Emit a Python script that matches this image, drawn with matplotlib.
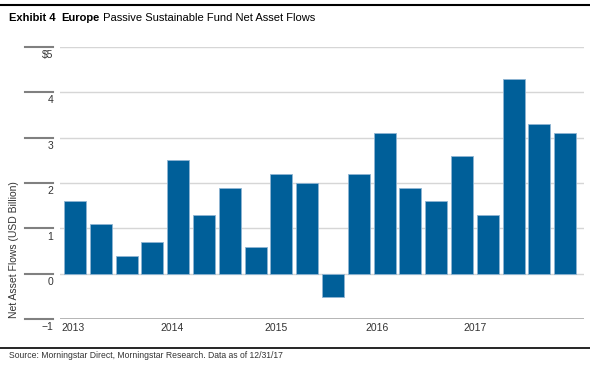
import matplotlib
matplotlib.use("Agg")
import matplotlib.pyplot as plt
import matplotlib.transforms as mtransforms
from matplotlib import font_manager
from matplotlib.lines import Line2D

# quarterly flows, Q1 2013 .. Q4 2017
flows = [1.6, 1.1, 0.4, 0.7, 2.5, 1.3, 1.9, 0.6, 2.2, 2.0,
         -0.5, 2.2, 3.1, 1.9, 1.6, 2.6, 1.3, 4.3, 3.3, 3.1]
years = ["2013", "2014", "2015", "2016", "2017"]
year_pos = [-0.06, 3.76, 7.79, 11.69, 15.5]
yvals = [5, 4, 3, 2, 1, 0, -1]
ylabels = ["$5", "4", "3", "2", "1", "0", "\u22121"]


def pick_font(names):
    for n in names:
        try:
            font_manager.findfont(n, fallback_to_default=False)
            return n
        except ValueError:
            pass
    return 'DejaVu Sans'


fam = pick_font(['Liberation Sans Narrow', 'Liberation Sans', 'Roboto'])
plt.rcParams['font.family'] = [fam, 'DejaVu Sans']

fig = plt.figure(figsize=(5.9, 3.68), dpi=100)
ax = fig.add_axes([60 / 590, 1 - 319.3 / 368, 524 / 590, (319.3 - 46.7) / 368])

x = list(range(len(flows)))
ax.bar(x, flows, width=0.85, color='#005f99', edgecolor='#8fb5d3', linewidth=0.6, zorder=3)

ax.set_xlim(-0.58, -0.58 + 524 / 25.8)
ax.set_ylim(-1, 5)

for v in yvals:
    if v == -1:
        ax.axhline(v, color='#a8a8a8', linewidth=1.2, zorder=1)
    else:
        ax.axhline(v, color='#d6d6d6', linewidth=1.0, zorder=1)

# short dark tick segments and labels left of the plot
trans = mtransforms.blended_transform_factory(ax.transAxes, ax.transData)
for v, lab in zip(yvals, ylabels):
    ax.add_line(Line2D([-35 / 524, -7 / 524], [v, v], transform=trans,
                       color='#808080', linewidth=1.5, clip_on=False))
    ax.text(-7 / 524, v - 0.07, lab, transform=trans, ha='right', va='top',
            fontsize=7.5, color='#333333')

for xp, yr in zip(year_pos, years):
    ax.text(xp, -1.09, yr, ha='center', va='top', fontsize=7.5, color='#333333')

ax.set_xticks([])
ax.set_yticks([])
for s in ax.spines.values():
    s.set_visible(False)

fig.text(14 / 590, 1 - 250 / 368, "Net Asset Flows (USD Billion)", rotation=90,
         ha='center', va='center', fontsize=7.5, color='#333333')

# top and bottom rules
fig.add_artist(Line2D([0, 1], [1 - 5 / 368, 1 - 5 / 368], color='black', linewidth=1.5))
fig.add_artist(Line2D([0, 1], [1 - 347.5 / 368, 1 - 347.5 / 368], color='black', linewidth=1.2))

fig.canvas.draw()
r = fig.canvas.get_renderer()

# title with mixed weights, sized to roughly the original width
parts = [("Exhibit 4", 'bold', 6), ("Europe", 'bold', 0),
         (" Passive Sustainable Fund Net Asset Flows", 'normal', 0)]


def draw_title(fs):
    xpos = 9
    made = []
    for txt, w, gap in parts:
        t = fig.text(xpos / 590, 1 - 18 / 368, txt, fontsize=fs, fontweight=w,
                     color='black', va='center', ha='left')
        made.append(t)
        xpos += t.get_window_extent(renderer=r).width + gap
    return made, xpos - 9


made, width = draw_title(10)
fs = max(8, min(10, 10 * 268 / width))
for t in made:
    t.remove()
draw_title(fs)

src = fig.text(9 / 590, 1 - 355 / 368,
               "Source: Morningstar Direct, Morningstar Research. Data as of 12/31/17",
               fontsize=7, color='#333333', va='center', ha='left')
w = src.get_window_extent(renderer=r).width
src.set_fontsize(max(6, min(7, 7 * 272 / w)))

fig.savefig("out.png", dpi=100)
